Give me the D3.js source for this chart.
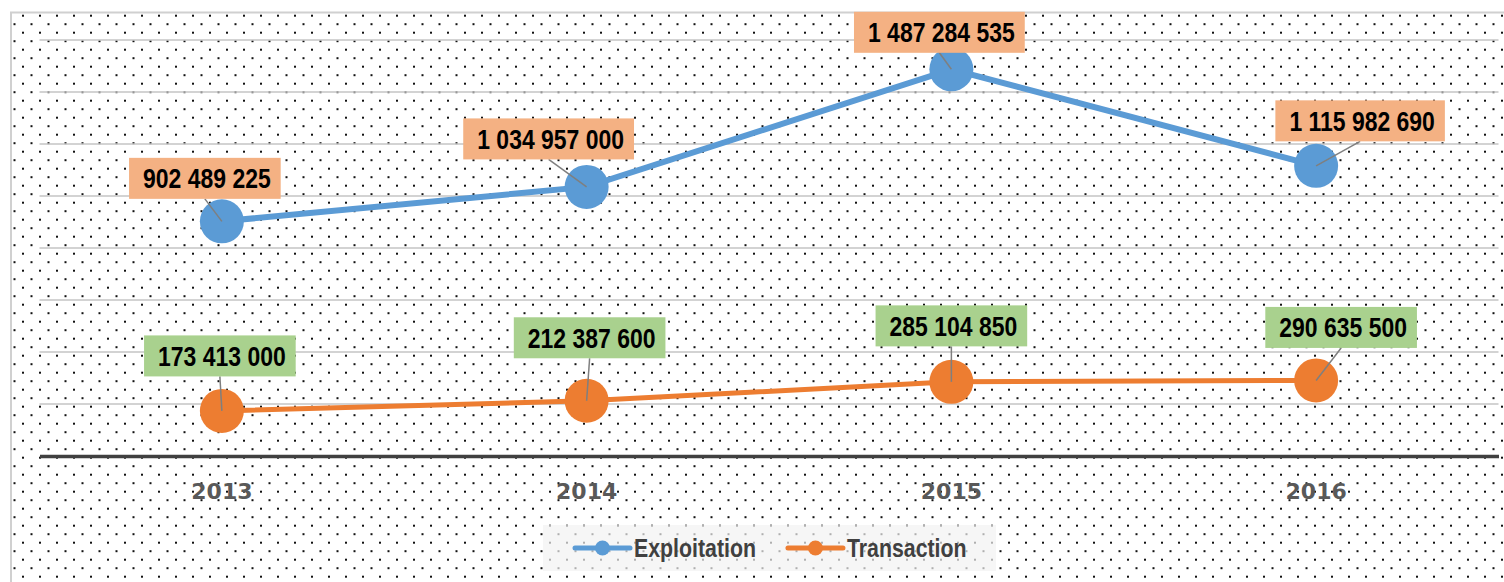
<!DOCTYPE html>
<html>
<head>
<meta charset="utf-8">
<script src="https://cdn.jsdelivr.net/npm/d3@7"></script>
<style>
  body { margin: 0; background: #fff; }
  svg { display: block; }
</style>
</head>
<body>
<svg id="chart" width="1504" height="582"></svg>
<script>
// data
const years = ["2013", "2014", "2015", "2016"]
const exploitation = [902489225, 1034957000, 1487284535, 1115982690]
const transaction = [173413000, 212387600, 285104850, 290635500]
const seriesNames = ["Exploitation", "Transaction"]
const yTicks = [0, 200e6, 400e6, 600e6, 800e6, 1000e6, 1200e6, 1400e6, 1600e6]

// where each label box sits relative to its point (box centre offset)
const expLabelOff = [[-17, -43], [-38, -48], [-12, -37], [44, -45]]
const trnLabelOff = [[-2, -55], [3, -63], [0, -56], [25, -53]]

const width = 1504, height = 582
const margin = {left: 39.5, right: 5.5, top: 40, bottom: 126}
const narrow = 0.82   // arial narrow look

const svg = d3.select("#chart")

// dotted fill
const defs = svg.append("defs")
const pat = defs.append("pattern")
    .attr("id", "dots")
    .attr("patternUnits", "userSpaceOnUse")
    .attr("width", 17).attr("height", 17)
pat.append("rect").attr("x", 5).attr("y", 14.7).attr("width", 2).attr("height", 2).attr("fill", "#111")
pat.append("rect").attr("x", 13.5).attr("y", 6.2).attr("width", 2).attr("height", 2).attr("fill", "#111")

svg.append("rect")
    .attr("x", 10).attr("y", 12)
    .attr("width", width - 10).attr("height", height - 12)
    .attr("fill", "url(#dots)")

// chart border (left + top)
svg.append("path")
    .attr("d", `M11,${height} V12.5 H${width}`)
    .attr("fill", "none")
    .attr("stroke", "#d0d0d0")
    .attr("stroke-width", 2)

const x = d3.scaleBand()
    .domain(years)
    .range([margin.left, width - margin.right])

const y = d3.scaleLinear()
    .domain([0, 1600e6])
    .range([456, margin.top])

const cx = d => x(d) + x.bandwidth() / 2

// gridlines
svg.append("g")
    .selectAll("line")
    .data(yTicks.slice(1))
    .enter()
    .append("line")
        .attr("x1", margin.left).attr("x2", width - margin.right)
        .attr("y1", d => y(d)).attr("y2", d => y(d))
        .attr("stroke", "#c4c4c4")
        .attr("stroke-width", 1.5)

// x axis
const xAxis = svg.append("g")
    .attr("transform", `translate(0, ${y(0)})`)
    .call(d3.axisBottom(x).tickSize(0).tickPadding(27))
xAxis.select(".domain")
    .attr("stroke", "#404040")
    .attr("stroke-width", 3.5)
xAxis.selectAll("text")
    .attr("fill", "#595959")
    .style("font-family", "'DejaVu Sans', sans-serif")
    .style("font-weight", "bold")
    .style("font-size", "22px")

const series = [
    {name: seriesNames[0], values: exploitation, color: "#5b9bd5", lw: 6, box: "#f4b183", off: expLabelOff},
    {name: seriesNames[1], values: transaction, color: "#ed7d31", lw: 5, box: "#a9d18e", off: trnLabelOff}
]

const line = d3.line()
    .x((d, i) => cx(years[i]))
    .y(d => y(d))

series.forEach(s => {
    svg.append("path")
        .datum(s.values)
        .attr("d", line)
        .attr("fill", "none")
        .attr("stroke", s.color)
        .attr("stroke-width", s.lw)

    svg.append("g")
        .selectAll("circle")
        .data(s.values)
        .enter()
        .append("circle")
            .attr("cx", (d, i) => cx(years[i]))
            .attr("cy", d => y(d))
            .attr("r", 22)
            .attr("fill", s.color)
})

const fmt = v => d3.format(",")(v).replace(/,/g, " ")
const labelFont = "'Liberation Sans', Arial, sans-serif"

// text squeezed horizontally, returns its drawn width
function narrowText(g, tx, ty, anchor, size, color, str){
    const t = g.append("text")
        .attr("transform", `translate(${tx},${ty}) scale(${narrow},1)`)
        .attr("text-anchor", anchor)
        .style("font-family", labelFont)
        .style("font-weight", "bold")
        .style("font-size", size + "px")
        .attr("fill", color)
        .text(str)
    return t.node().getComputedTextLength() * narrow
}

series.forEach(s => {
    s.values.forEach((v, i) => {
        const px = cx(years[i]), py = y(v)
        const bx = px + s.off[i][0], by = py + s.off[i][1]
        const g = svg.append("g")
        const w = narrowText(g, bx + 2, by + 10, "middle", 28, "#000", fmt(v)) + 24
        const h = 41
        g.insert("line", "text")
            .attr("x1", px).attr("y1", py)
            .attr("x2", bx).attr("y2", by + h / 2)
            .attr("stroke", "#7f7f7f")
            .attr("stroke-width", 1.5)
        g.insert("rect", "text")
            .attr("x", bx - w / 2).attr("y", by - h / 2)
            .attr("width", w).attr("height", h)
            .attr("fill", s.box)
    })
})

// legend
const legend = svg.append("g")
legend.append("rect")
    .attr("x", 543).attr("y", 525)
    .attr("width", 453).attr("height", 46)
    .attr("fill", "#f2f2f2")
    .attr("opacity", 0.7)

let cursor = 573
const ly = 548
series.forEach(s => {
    legend.append("line")
        .attr("x1", cursor + 2).attr("x2", cursor + 57)
        .attr("y1", ly).attr("y2", ly)
        .attr("stroke", s.color)
        .attr("stroke-width", 5)
        .attr("stroke-linecap", "round")
    legend.append("circle")
        .attr("cx", cursor + 29.5).attr("cy", ly)
        .attr("r", 7.5)
        .attr("fill", s.color)
    const tw = narrowText(legend, cursor + 61, ly + 9, "start", 26, "#404040", s.name)
    cursor += 61 + tw + 30
})
</script>
</body>
</html>
